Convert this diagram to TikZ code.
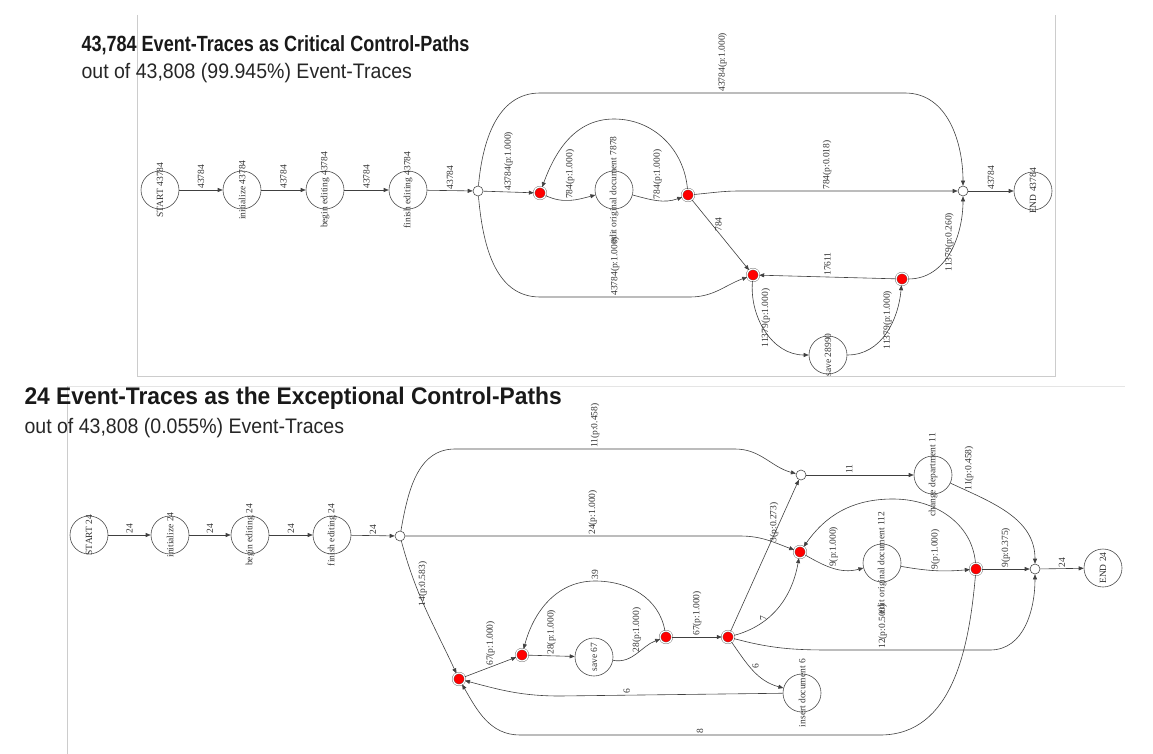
\documentclass[tikz,border=0pt]{standalone}
\usepackage{fontspec}
\setmainfont{Liberation Serif}
\newfontfamily\titlefont[FakeStretch=0.82]{Liberation Sans}
\newfontfamily\widefont[FakeStretch=0.95]{Liberation Sans}
\newfontfamily\subfont[FakeStretch=0.93]{Liberation Sans}
\usetikzlibrary{arrows.meta}

\begin{document}
\begin{tikzpicture}[x=1pt, y=1pt,
    state/.style={circle, draw=black!70, line width=0.6pt, minimum size=38pt, inner sep=0pt},
    junct/.style={circle, draw=black!70, line width=0.6pt, fill=white, minimum size=10pt, inner sep=0pt},
    hot/.style={circle, draw=black!60, fill=red, double=white, double distance=1.2pt, minimum size=12pt, inner sep=0pt},
    edge/.style={draw=black!75, line width=0.6pt, -{Triangle[length=5pt,width=4pt]}},
    lbl/.style={font=\fontsize{9.5}{10}\selectfont, text=black!80, rotate=90, inner sep=1pt},
    up/.style={lbl, anchor=west},
    lft/.style={lbl, anchor=south},
    rgt/.style={lbl, anchor=north, inner sep=3pt},
    frame/.style={draw=black!20, line width=0.8pt},
    head/.style={anchor=west, text=black!90, font=\titlefont\bfseries\fontsize{22}{26}\selectfont},
    bighead/.style={anchor=west, text=black!90, font=\widefont\bfseries\fontsize{24}{28}\selectfont},
    subhead/.style={anchor=west, text=black!85, font=\subfont\fontsize{21}{24}\selectfont}]
    \useasboundingbox (0,0) rectangle (1153,-754);
    % Screenshot frames
    \draw[frame] (137,-15) -- (137,-376) -- (1055,-376) -- (1055,-15);
    \draw[frame, draw=black!10] (67,-386) -- (1125,-386);
    \draw[frame] (67,-386) -- (67,-754);
    % Headings
    \node[head] (ttitle) at (78,-45) {43,784 Event-Traces as Critical Control-Paths};
    \node[subhead] (tsub) at (78,-73) {out of 43,808 (99.945\%) Event-Traces};
    \node[bighead] (btitle) at (21,-398) {24 Event-Traces as the Exceptional Control-Paths};
    \node[subhead] (bsub) at (21,-428) {out of 43,808 (0.055\%) Event-Traces};

    % Critical paths: states
    \node[state, label={[lbl]center:START 43784}] (tstart) at (160,-190) {};
    \node[state, label={[lbl]center:initialize 43784}] (tinit) at (242,-190) {};
    \node[state, label={[lbl]center:begin editing 43784}] (tbegin) at (325,-190) {};
    \node[state, label={[lbl]center:finish editing 43784}] (tfinish) at (408,-190) {};
    \node[junct] (tj1) at (478,-191) {};
    \node[hot] (tr1) at (540,-193) {};
    \node[state, label={[lbl]center:edit original document 7878}] (tdoc) at (614,-190) {};
    \node[hot] (tr2) at (688,-195) {};
    \node[hot] (tr3) at (753,-275) {};
    \node[hot] (tr4) at (902,-279) {};
    \node[state, label={[lbl]center:save 28990}] (tsave) at (828,-355) {};
    \node[junct] (tj2) at (963,-191) {};
    \node[state, label={[lbl]center:END 43784}] (tend) at (1033,-191) {};
    % Critical paths: transitions
    \draw[edge] (tstart) -- node[up] {43784} (tinit);
    \draw[edge] (tinit) -- node[up] {43784} (tbegin);
    \draw[edge] (tbegin) -- node[up] {43784} (tfinish);
    \draw[edge] (tfinish) -- node[up] {43784} (tj1);
    \draw[edge] (tj1) -- node[up] {43784(p:1.000)} (tr1);
    \draw[edge] (tj1) to[out=85,in=180] (540,-93) -- node[up] {43784(p:1.000)} (905,-93) to[out=0,in=90] (tj2);
    \draw[edge] (tj1) to[out=-85,in=180] (540,-297) -- node[up] {43784(p:1.000)} (690,-297) to[out=0,in=200] (tr3);
    \draw[edge] (tr1) to[out=-25,in=195] node[up] {784(p:1.000)} (tdoc);
    \draw[edge] (tdoc) to[out=-15,in=200] node[up] {784(p:1.000)} (tr2);
    \draw[edge] (tr2) to[out=95,in=0] (614,-119) to[out=180,in=70] (tr1);
    \draw[edge] (tr2) to[out=5,in=180] (740,-191) -- node[pos=0.4, up] {784(p:0.018)} (tj2);
    \draw[edge] (tr2) -- node[pos=0.35, rgt] {784} (tr3);
    \draw[edge] (tr3) to[out=-95,in=180] node[pos=0.35, rgt] {11379(p:1.000)} (tsave);
    \draw[edge] (tsave) to[out=0,in=-95] node[pos=0.65, lft] {11379(p:1.000)} (tr4);
    \draw[edge] (tr4) -- node[up] {17611} (tr3);
    \draw[edge] (tr4) to[out=0,in=-90] node[pos=0.6, lft] {11379(p:0.260)} (tj2);
    \draw[edge] (tj2) -- node[up] {43784} (tend);

    % Exceptional paths: states
    \node[state, label={[lbl]center:START 24}] (bstart) at (89,-535) {};
    \node[state, label={[lbl]center:initialize 24}] (binit) at (170,-535) {};
    \node[state, label={[lbl]center:begin editing 24}] (bbegin) at (250,-535) {};
    \node[state, label={[lbl]center:finish editing 24}] (bfinish) at (332,-535) {};
    \node[junct] (bj1) at (400,-536) {};
    \node[junct] (bjt) at (801,-475) {};
    \node[state, label={[lbl]center:change department 11}] (bchg) at (933,-475) {};
    \node[hot] (bra) at (800,-552) {};
    \node[state, label={[lbl]center:edit original document 112}] (bdoc) at (882,-563) {};
    \node[hot] (brf) at (976,-569) {};
    \node[junct] (bje) at (1035,-569) {};
    \node[state, label={[lbl]center:END 24}] (bend) at (1103,-568) {};
    \node[hot] (brb) at (459,-679) {};
    \node[hot] (brc) at (522,-655) {};
    \node[state, label={[lbl]center:save 67}] (bsave) at (594,-657) {};
    \node[hot] (brd) at (666,-637) {};
    \node[hot] (bre) at (728,-637) {};
    \node[state, label={[lbl]center:insert document 6}] (bins) at (802,-693) {};
    % Exceptional paths: transitions
    \draw[edge] (bstart) -- node[up] {24} (binit);
    \draw[edge] (binit) -- node[up] {24} (bbegin);
    \draw[edge] (bbegin) -- node[up] {24} (bfinish);
    \draw[edge] (bfinish) -- node[up] {24} (bj1);
    \draw[edge] (bj1) to[out=80,in=180] (455,-449) -- node[up] {11(p:0.458)} (735,-449) to[out=0,in=165] (bjt);
    \draw[edge] (bj1) -- node[pos=0.56, up] {24(p:1.000)} (740,-536) to[out=0,in=160] (bra);
    \draw[edge] (bj1) to[out=-75,in=115] node[pos=0.3, rgt] {14(p:0.583)} (brb);
    \draw[edge] (brb) -- node[up] {67(p:1.000)} (brc);
    \draw[edge] (brc) -- node[up] {28(p:1.000)} (bsave);
    \draw[edge] (bsave) to[out=-10,in=200] node[up] {28(p:1.000)} (brd);
    \draw[edge] (brd) to[out=100,in=0] (595,-581) node[up] {39} to[out=180,in=75] (brc);
    \draw[edge] (brd) -- node[up] {67(p:1.000)} (bre);
    \draw[edge] (bre) -- node[pos=0.72, lft] {3(p:0.273)} (bjt);
    \draw[edge] (bre) to[out=15,in=-100] node[pos=0.35, lft] {7} (bra);
    \draw[edge] (bre) to[out=-15,in=180] (830,-650) -- node[pos=0.33, up] {12(p:0.500)} (990,-650) to[out=0,in=-90] (bje);
    \draw[edge] (bre) to[out=-55,in=165] node[pos=0.4, rgt] {6} (bins);
    \draw[edge] (bins) -- node[pos=0.7, up] {6} (560,-696) to[out=180,in=-15] (brb);
    \draw[edge] (brf) to[out=-95,in=0] (880,-735) -- node[up] {8} (520,-735) to[out=180,in=-60] (brb);
    \draw[edge] (bra) to[out=-30,in=195] node[up] {9(p:1.000)} (bdoc);
    \draw[edge] (bdoc) to[out=-10,in=185] node[up] {9(p:1.000)} (brf);
    \draw[edge] (brf) to[out=95,in=0] (893,-499) to[out=180,in=55] (bra);
    \draw[edge] (brf) -- node[up] {9(p:0.375)} (bje);
    \draw[edge] (bjt) -- node[pos=0.4, up] {11} (bchg);
    \draw[edge] (bchg) to[out=-25,in=90] node[pos=0.15, up] {11(p:0.458)} (bje);
    \draw[edge] (bje) -- node[up] {24} (bend);
\end{tikzpicture}
\end{document}
